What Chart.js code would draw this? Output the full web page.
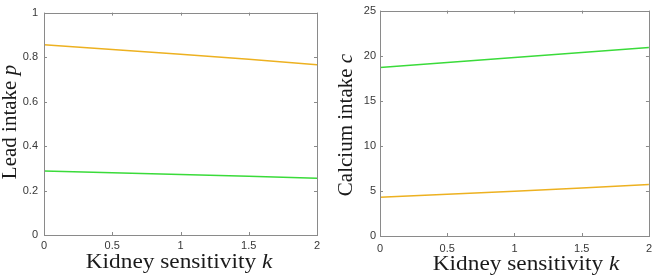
<!DOCTYPE html>
<html>
<head>
<meta charset="utf-8">
<script src="https://cdn.jsdelivr.net/npm/chart.js@4/dist/chart.umd.min.js"></script>
<style>
html,body{margin:0;padding:0;background:#fff;}
#wrap{position:relative;width:658px;height:278px;overflow:hidden;}
.box{position:absolute;top:0;height:278px;}
</style>
</head>
<body>
<div id="wrap">
  <div class="box" style="left:0;width:330px;"><canvas id="c1" width="330" height="278"></canvas></div>
  <div class="box" style="left:330px;width:328px;"><canvas id="c2" width="328" height="278"></canvas></div>
</div>
<script>
// ---- data ----
const kValues = [0, 0.5, 1, 1.5, 2];
const leadOrange = [0.855, 0.834, 0.813, 0.790, 0.765];
const leadGreen = [0.288, 0.280, 0.272, 0.264, 0.255];
const calciumGreen = [18.7, 19.25, 19.8, 20.35, 20.9];
const calciumOrange = [4.3, 4.62, 4.95, 5.32, 5.7];
const xTickLabels = ['0', '0.5', '1', '1.5', '2'];
const leadTickLabels = ['0', '0.2', '0.4', '0.6', '0.8', '1'];
const calciumTickLabels = ['0', '5', '10', '15', '20', '25'];
const xTitleParts = [['Kidney sensitivity ', false], ['k', true]];
const leadTitleParts = [['Lead intake ', false], ['p', true]];
const calciumTitleParts = [['Calcium intake ', false], ['c', true]];

const ORANGE = '#EDB120';
const GREEN = '#3ADB3A';
const AXIS = '#8a8a8a';
const TICKTXT = '#383838';

function pts(xs, ys){ return xs.map((x,i)=>({x:x,y:ys[i]})); }

function drawParts(ctx, parts, size){
  let total = 0;
  const ws = parts.map(p=>{
    ctx.font = (p[1]?'italic ':'') + size + 'px "Liberation Serif", "DejaVu Serif", serif';
    const w = ctx.measureText(p[0]).width; total += w; return w;
  });
  let x = -total/2;
  parts.forEach((p,i)=>{
    ctx.font = (p[1]?'italic ':'') + size + 'px "Liberation Serif", "DejaVu Serif", serif';
    ctx.fillText(p[0], x, 0);
    x += ws[i];
  });
}

const boxPlugin = {
  id: 'matlabBox',
  afterDraw(chart, args, opts){
    const ctx = chart.ctx, a = chart.chartArea;
    const xs = chart.scales.x, ys = chart.scales.y;
    ctx.save();
    ctx.strokeStyle = AXIS; ctx.lineWidth = 1;
    ctx.strokeRect(Math.round(a.left)+0.5, Math.round(a.top)+0.5, Math.round(a.right-a.left), Math.round(a.bottom-a.top));
    const L = 3;
    ctx.beginPath();
    xs.ticks.forEach(t=>{
      const px = Math.round(xs.getPixelForValue(t.value))+0.5;
      ctx.moveTo(px, a.bottom); ctx.lineTo(px, a.bottom-L);
      ctx.moveTo(px, a.top); ctx.lineTo(px, a.top+L);
    });
    ys.ticks.forEach(t=>{
      const py = Math.round(ys.getPixelForValue(t.value))+0.5;
      ctx.moveTo(a.left, py); ctx.lineTo(a.left+L, py);
      ctx.moveTo(a.right, py); ctx.lineTo(a.right-L, py);
    });
    ctx.stroke();
    ctx.fillStyle = '#1a1a1a';
    ctx.textBaseline = 'middle';
    ctx.textAlign = 'left';
    ctx.save();
    ctx.translate(opts.xTitleX, opts.xTitleY);
    ctx.scale(1.11, 1);
    drawParts(ctx, opts.xTitle, opts.size);
    ctx.restore();
    ctx.save();
    ctx.translate(opts.yTitleX, opts.yTitleY);
    ctx.rotate(-Math.PI/2);
    drawParts(ctx, opts.yTitle, opts.size);
    ctx.restore();
    ctx.restore();
  }
};

function makeChart(id, cfg){
  const H = 278;
  return new Chart(document.getElementById(id), {
    type: 'line',
    data: { datasets: cfg.datasets.map(d=>({
      data: pts(kValues, d.values), borderColor: d.color, borderWidth: 1.5,
      pointRadius: 0, fill: false, tension: 0
    })) },
    options: {
      responsive: false, animation: false,
      layout: { padding: { top: cfg.top, right: cfg.right, left: 0, bottom: 0 } },
      plugins: { legend: {display:false}, tooltip: {enabled:false}, matlabBox: cfg.titles },
      scales: {
        x: {
          type: 'linear', min: 0, max: 2,
          afterBuildTicks(s){ s.ticks = kValues.map(v=>({value:v})); },
          grid: { display:false, drawTicks:false },
          border: { display:false },
          ticks: { padding: cfg.xPad, color: TICKTXT, maxRotation:0, autoSkip:false,
            font: { family: '"Liberation Sans", Arial, sans-serif', size: 11 },
            callback: (v, i) => xTickLabels[i] },
          afterFit(s){ s.height = H - cfg.bottom; }
        },
        y: {
          type: 'linear', min: cfg.ymin, max: cfg.ymax,
          afterBuildTicks(s){ s.ticks = cfg.yLabels.map((l,i)=>({value: cfg.ymin + i*cfg.ystep})); },
          grid: { display:false, drawTicks:false },
          border: { display:false },
          ticks: { padding: cfg.yPad, color: TICKTXT, autoSkip:false,
            font: { family: '"Liberation Sans", Arial, sans-serif', size: 11 },
            callback: (v, i) => cfg.yLabels[i] },
          afterFit(s){ s.width = cfg.left; }
        }
      }
    },
    plugins: [boxPlugin]
  });
}

makeChart('c1', {
  datasets: [{values: leadOrange, color: ORANGE}, {values: leadGreen, color: GREEN}],
  ymin: 0, ymax: 1, ystep: 0.2, yLabels: leadTickLabels,
  left: 44, right: 13, top: 5, bottom: 235, xPad: 4, yPad: 6,
  titles: { xTitle: xTitleParts, yTitle: leadTitleParts, size: 21,
    xTitleX: 179, xTitleY: 262, yTitleX: 10, yTitleY: 122 }
});
makeChart('c2', {
  datasets: [{values: calciumGreen, color: GREEN}, {values: calciumOrange, color: ORANGE}],
  ymin: 0, ymax: 25, ystep: 5, yLabels: calciumTickLabels,
  left: 50, right: 4, top: 6, bottom: 236, xPad: 6, yPad: 4,
  titles: { xTitle: xTitleParts, yTitle: calciumTitleParts, size: 21,
    xTitleX: 196, xTitleY: 264, yTitleX: 16, yTitleY: 125 }
});
</script>
</body>
</html>
